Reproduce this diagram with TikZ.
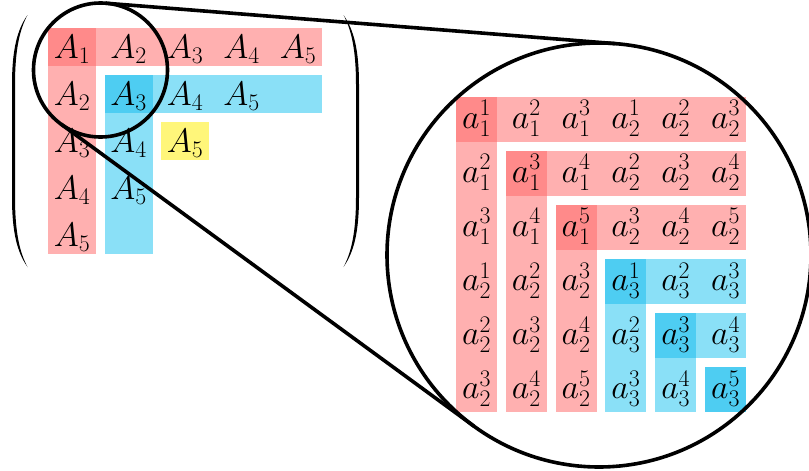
\RequirePackage{fix-cm}
\documentclass[tikz,border=0pt]{standalone}
\usetikzlibrary{calc}
\definecolor{lred}{RGB}{255,176,176}
\definecolor{dred}{RGB}{255,138,138}
\definecolor{lblue}{RGB}{138,224,247}
\definecolor{dblue}{RGB}{78,205,242}
\definecolor{lyel}{RGB}{255,246,122}
\begin{document}
\begin{tikzpicture}[x=1pt,y=-1pt,
  txt/.style={inner sep=0pt, anchor=base, font=\fontsize{34}{40}\selectfont},
  ring/.style={line width=3.6pt, draw=black},
  paren/.style={fill=black}]
\useasboundingbox (0,0) rectangle (809,471);

% ---- left matrix bands
\fill[lred] (48,28) rectangle (322,66);
\fill[lred] (48,28) rectangle (96,254);
\fill[dred] (48,28) rectangle (96,66);
\fill[lblue] (104.5,75) rectangle (322,113);
\fill[lblue] (104.5,75) rectangle (152.5,254);
\fill[dblue] (104.5,75) rectangle (152.5,113);
\fill[lyel] (161,122) rectangle (209,160);

% ---- left matrix entries
\node[txt] (L11) at (72,58) {$A_1$};
\node[txt] (L12) at (128.5,58) {$A_2$};
\node[txt] (L13) at (185,58) {$A_3$};
\node[txt] (L14) at (241.5,58) {$A_4$};
\node[txt] (L15) at (298,58) {$A_5$};
\node[txt] (L21) at (72,105) {$A_2$};
\node[txt] (L22) at (128.5,105) {$A_3$};
\node[txt] (L23) at (185,105) {$A_4$};
\node[txt] (L24) at (241.5,105) {$A_5$};
\node[txt] (L31) at (72,152) {$A_3$};
\node[txt] (L32) at (128.5,152) {$A_4$};
\node[txt] (L33) at (185,152) {$A_5$};
\node[txt] (L41) at (72,199) {$A_4$};
\node[txt] (L42) at (128.5,199) {$A_5$};
\node[txt] (L51) at (72,246) {$A_5$};

% ---- parentheses
\fill[paren] (27.5,15) .. controls (17,30) and (12,50) .. (12,85) -- (12,197)
  .. controls (12,232) and (17,252) .. (27.5,267)
  .. controls (19.5,252) and (15,232) .. (15,197) -- (15,85)
  .. controls (15,50) and (19.5,30) .. (27.5,15) -- cycle;
\begin{scope}[shift={(371,0)}, xscale=-1]
\fill[paren] (27.5,15) .. controls (17,30) and (12,50) .. (12,85) -- (12,197)
  .. controls (12,232) and (17,252) .. (27.5,267)
  .. controls (19.5,252) and (15,232) .. (15,197) -- (15,85)
  .. controls (15,50) and (19.5,30) .. (27.5,15) -- cycle;
\end{scope}

% ---- right matrix bands
\foreach \k/\lc/\dc in {1/lred/dred,2/lred/dred,3/lred/dred,4/lblue/dblue,5/lblue/dblue,6/lblue/dblue} {
  \pgfmathsetmacro\xl{456+(\k-1)*49.8}
  \pgfmathsetmacro\yt{96.7+(\k-1)*54.06}
  \fill[\lc] (\xl,\yt) rectangle (746,\yt+45);
  \fill[\lc] (\xl,\yt) rectangle (\xl+41,412);
  \fill[\dc] (\xl,\yt) rectangle (\xl+41,\yt+45);
}

% ---- right matrix entries
\foreach \r in {1,...,6} {
  \foreach \c in {1,...,6} {
    \pgfmathtruncatemacro\sbx{int((\r-1)/3)+int((\c-1)/3)+1}
    \pgfmathtruncatemacro\spx{mod(\r-1,3)+mod(\c-1,3)+1}
    \node[txt] (R\r\c) at ({476.5+(\c-1)*49.8},{128.2+(\r-1)*54.06}) {$a_{\sbx}^{\spx}$};
  }
}

% ---- magnifier
\coordinate (c1) at (100.5,70);
\coordinate (c2) at (599,255);
\draw[ring] (c1) circle (67);
\draw[ring] (c2) circle (212);
\coordinate (t1) at ($(c1)+(-85.45:67)$);
\coordinate (t2) at ($(c2)+(-85.45:212)$);
\coordinate (b1) at ($(c1)+(126.2:67)$);
\coordinate (b2) at ($(c2)+(126.2:212)$);
\draw[ring] (t1) -- (t2);
\draw[ring] (b1) -- (b2);
\end{tikzpicture}
\end{document}
